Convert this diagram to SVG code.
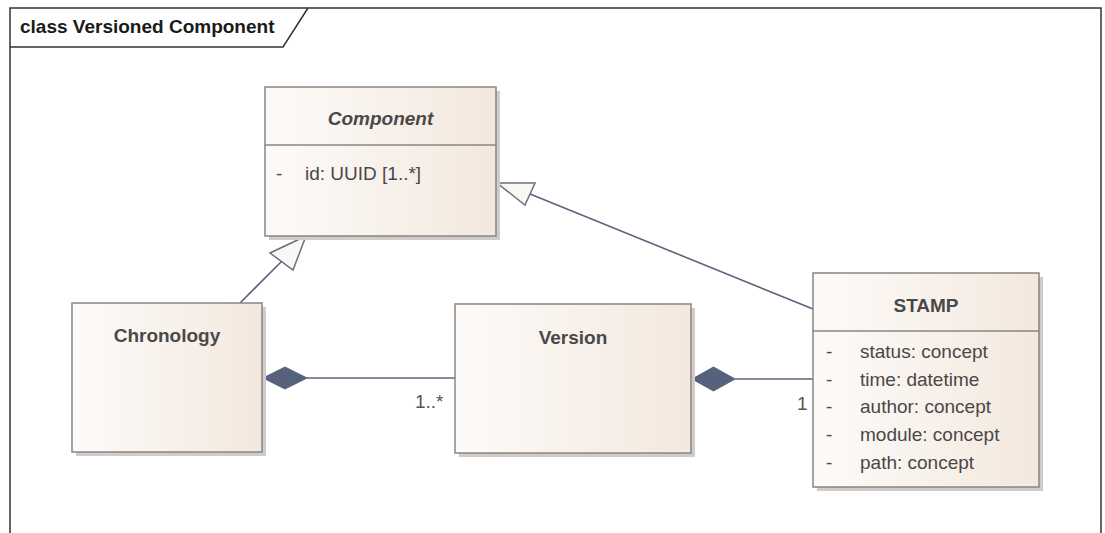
<svg xmlns="http://www.w3.org/2000/svg" width="1105" height="533" viewBox="0 0 1105 533">
<defs>
<linearGradient id="fill" x1="0" y1="0" x2="1" y2="0">
<stop offset="0" stop-color="#fdfbf9"/>
<stop offset="1" stop-color="#f3e8de"/>
</linearGradient>
</defs>
<style>
.shadow{fill:#cfcccb;}
.box{fill:url(#fill);stroke:#8c8480;stroke-width:1.5;}
.div{stroke:#8c8480;stroke-width:1.5;}
.title{font-family:"Liberation Sans",Arial,sans-serif;font-size:19px;font-weight:bold;fill:#4a4848;text-anchor:middle;}
.attr{font-family:"Liberation Sans",Arial,sans-serif;font-size:19px;fill:#4d4646;}
.lbl{font-family:"Liberation Sans",Arial,sans-serif;font-size:19px;fill:#555555;}
.edge{stroke:#5c6479;stroke-width:1.6;fill:none;}
.tri{fill:#fbf7f3;stroke:#6a7080;stroke-width:1.5;}
.dia{fill:#56617b;stroke:#56617b;stroke-width:1;}
.frame{stroke:#333333;stroke-width:1.5;fill:none;}
</style>
<rect x="0" y="0" width="1105" height="533" fill="#ffffff"/>
<g id="frame">
<path class="frame" d="M10,540 L10,8 L1101,8 L1101,540"/>
<path class="frame" d="M10,47 L283,47 L308,8"/>
<text x="20" y="33" font-family="Liberation Sans,Arial,sans-serif" font-size="19" font-weight="bold" fill="#1a1a1a">class Versioned Component</text>
</g>
<g id="connectors">
<line class="edge" x1="240" y1="303" x2="281.5" y2="261.5"/>
<polygon class="tri" points="306,236 270,253 293,270"/>
<line class="edge" x1="813" y1="309" x2="530" y2="194"/>
<polygon class="tri" points="497,183 535,183 525,205"/>
<line class="edge" x1="307" y1="378" x2="455" y2="378"/>
<polygon class="dia" points="263,378 285,367 307,378 285,389"/>
<line class="edge" x1="735" y1="379" x2="813" y2="379"/>
<polygon class="dia" points="692,379 713.5,367 735,379 713.5,391"/>
<text class="lbl" x="415" y="408">1..*</text>
<text class="lbl" x="797" y="410">1</text>
</g>
<g id="component">
<rect class="shadow" x="269" y="91" width="231" height="149"/>
<rect class="box" x="265" y="87" width="231" height="149"/>
<line class="div" x1="265" y1="145" x2="496" y2="145"/>
<text class="title" x="380.5" y="125" font-style="italic">Component</text>
<text class="attr" x="276" y="180">-</text>
<text class="attr" x="305" y="180">id: UUID [1..*]</text>
</g>
<g id="chronology">
<rect class="shadow" x="76" y="307" width="190" height="149"/>
<rect class="box" x="72" y="303" width="190" height="149"/>
<text class="title" x="167" y="342">Chronology</text>
</g>
<g id="version">
<rect class="shadow" x="459" y="308" width="236" height="149"/>
<rect class="box" x="455" y="304" width="236" height="149"/>
<text class="title" x="573" y="344">Version</text>
</g>
<g id="stamp">
<rect class="shadow" x="817" y="277" width="226" height="214"/>
<rect class="box" x="813" y="273" width="226" height="214"/>
<line class="div" x1="813" y1="331" x2="1039" y2="331"/>
<text class="title" x="926" y="312">STAMP</text>
<text class="attr" x="826" y="358">-</text>
<text class="attr" x="860" y="358">status: concept</text>
<text class="attr" x="826" y="386">-</text>
<text class="attr" x="860" y="386">time: datetime</text>
<text class="attr" x="826" y="413">-</text>
<text class="attr" x="860" y="413">author: concept</text>
<text class="attr" x="826" y="441">-</text>
<text class="attr" x="860" y="441">module: concept</text>
<text class="attr" x="826" y="469">-</text>
<text class="attr" x="860" y="469">path: concept</text>
</g>
</svg>
